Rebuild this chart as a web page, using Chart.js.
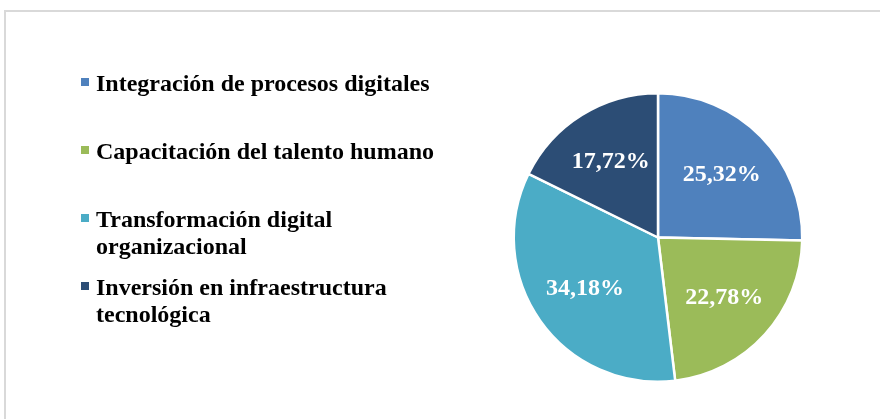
<!DOCTYPE html>
<html>
<head>
<meta charset="utf-8">
<script src="https://cdn.jsdelivr.net/npm/chart.js@4"></script>
<style>
  body { margin: 0; background: #fff; overflow: hidden; }
  #wrap { position: relative; width: 880px; height: 419px; }
  #frame { position: absolute; left: 4px; top: 10px; width: 1000px; height: 1000px;
           border-left: 2px solid #d9d9d9; border-top: 2px solid #d9d9d9; }
  canvas { position: absolute; left: 0; top: 0; }
</style>
</head>
<body>
<div id="wrap">
  <div id="frame"></div>
  <canvas id="pieChart" width="880" height="419"></canvas>
</div>
<script>
// Datos del gráfico
const categories = [
    'Integración de procesos digitales',
    'Capacitación del talento humano',
    'Transformación digital organizacional',
    'Inversión en infraestructura tecnológica'
];
const percentages = [25.32, 22.78, 34.18, 17.72];
const sliceColors = ['#4F81BD', '#9BBB59', '#4BACC6', '#2C4D75'];

const FONT = 'bold 24px "Liberation Serif", "Times New Roman", serif';

// Parte un texto en líneas según un ancho máximo
function wrapText(ctx, text, maxWidth) {
    const words = text.split(' ');
    const lines = [];
    let line = '';
    words.forEach(w => {
        const test = line ? line + ' ' + w : w;
        if (ctx.measureText(test).width > maxWidth && line) {
            lines.push(line);
            line = w;
        } else {
            line = test;
        }
    });
    if (line) lines.push(line);
    return lines;
}

// Leyenda a la izquierda, estilo Excel
const sideLegend = {
    id: 'sideLegend',
    afterDraw(chart) {
        const ctx = chart.ctx;
        ctx.save();
        ctx.font = FONT;
        ctx.textAlign = 'left';
        ctx.textBaseline = 'alphabetic';
        categories.forEach((cat, i) => {
            const base = 91 + i * 68;
            ctx.fillStyle = sliceColors[i];
            ctx.fillRect(81, base - 13, 8, 8);
            ctx.fillStyle = '#000';
            wrapText(ctx, cat, 345).forEach((ln, j) => {
                ctx.fillText(ln, 96, base + j * 27);
            });
        });
        ctx.restore();
    }
};

// Porcentajes dentro de cada sector
const sliceLabels = {
    id: 'sliceLabels',
    afterDatasetsDraw(chart) {
        const ctx = chart.ctx;
        const meta = chart.getDatasetMeta(0);
        ctx.save();
        ctx.font = FONT;
        ctx.fillStyle = '#fff';
        ctx.textAlign = 'center';
        ctx.textBaseline = 'middle';
        meta.data.forEach((arc, i) => {
            const mid = (arc.startAngle + arc.endAngle) / 2;
            const r = arc.outerRadius * 0.62;
            const x = arc.x + Math.cos(mid) * r;
            const y = arc.y + Math.sin(mid) * r;
            ctx.fillText(percentages[i].toFixed(2).replace('.', ',') + '%', x, y);
        });
        ctx.restore();
    }
};

window.onload = function() {
    const ctx = document.getElementById('pieChart').getContext('2d');
    new Chart(ctx, {
        type: 'pie',
        data: {
            labels: categories,
            datasets: [{
                data: percentages,
                backgroundColor: sliceColors,
                borderColor: '#fff',
                borderWidth: 2.5
            }]
        },
        options: {
            responsive: false,
            animation: false,
            layout: { padding: { left: 512, right: 76, top: 92, bottom: 36 } },
            plugins: {
                legend: { display: false },
                tooltip: { enabled: false }
            }
        },
        plugins: [sideLegend, sliceLabels]
    });
};
</script>
</body>
</html>
